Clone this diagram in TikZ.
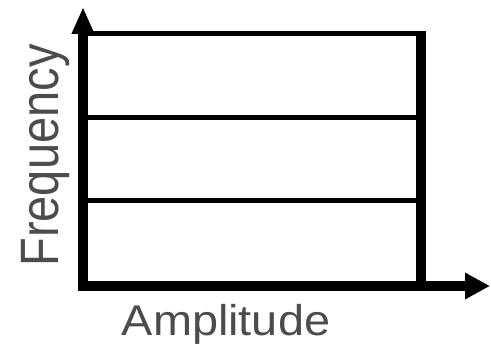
\documentclass[tikz,border=0pt]{standalone}
\usepackage{fontspec}
\setmainfont{Liberation Sans}
\usetikzlibrary{arrows.meta}

\begin{document}
\begin{tikzpicture}[
    x=1pt, y=-1pt,
    axis/.style  = {line width=10pt, -{Triangle[width=25pt,length=25pt]}},
    band/.style  = {line width=5pt},
    edge/.style  = {line width=10pt},
    label/.style = {text=black!70, inner sep=0pt}
]
\useasboundingbox (0,0) rectangle (491,347);

% Eckpunkte
\coordinate (O)    at (83,286);
\coordinate (ytop) at (83,7);
\coordinate (xend) at (490,286);
\coordinate (tl)   at (83,33.5);
\coordinate (tr)   at (426,33.5);
\coordinate (rt)   at (421,31);
\coordinate (rb)   at (421,286);

% Achsen
\draw[axis, -{Triangle[width=21pt,length=27pt]}] ([yshift=-5pt]O) -- (ytop);
\draw[axis] ([xshift=-5pt]O) -- (xend);

% Rahmen
\draw[band] (tl) -- (tr);
\draw[edge] (rt) -- (rb);

% Baender
\draw[band] (88,117.5) -- (416,117.5);
\draw[band] (88,200.5) -- (416,200.5);

% Beschriftung
\node[label, anchor=base] (amp) at (226,336)
    {\fontsize{43}{43}\selectfont\scalebox{1.09}[1]{Amplitude}};
\node[label, rotate=90, anchor=base] (freq) at (58,155.5)
    {\fontsize{47}{47}\selectfont\scalebox{1}[1.15]{Frequency}};

\end{tikzpicture}
\end{document}
